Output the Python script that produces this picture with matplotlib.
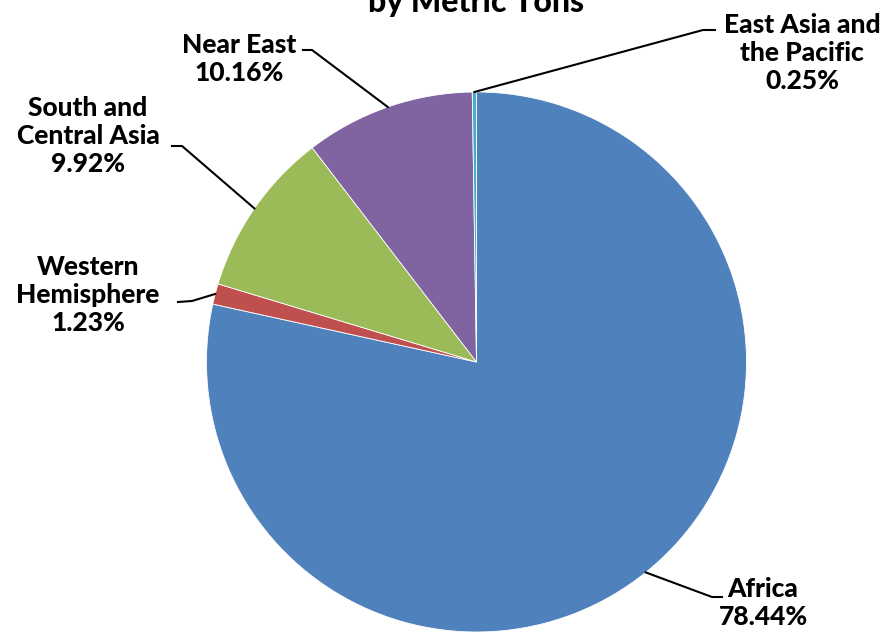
import numpy as np
import matplotlib.pyplot as plt

regions = ['Africa', 'Western\nHemisphere', 'South and\nCentral Asia', 'Near East', 'East Asia and\nthe Pacific']
shares = [78.44, 1.23, 9.92, 10.16, 0.25]
colors = ['#4F81BD', '#C0504D', '#9BBB59', '#8064A2', '#4BACC6']

plt.rcParams['font.family'] = ['Lato', 'DejaVu Sans']

W, H = 891, 633
fig = plt.figure(figsize=(W / 100, H / 100), dpi=100)

# pie centre and radius in pixels (from top-left)
cx, cy, r = 476.5, 362, 270
ax = fig.add_axes([(cx - r) / W, (H - cy - r) / H, 2 * r / W, 2 * r / H])
wedges, _ = ax.pie(shares, colors=colors, startangle=90, counterclock=False,
                   radius=1, wedgeprops=dict(edgecolor='white', linewidth=0.6))
ax.set_xlim(-1, 1)
ax.set_ylim(-1, 1)
ax.set_aspect('equal')
ax.axis('off')


def to_data(px, py):
    return (px - cx) / r, (cy - py) / r


# label text centre, elbow of leader line, end of horizontal stub (pixels)
layout = [
    ((763, 603), (712, 597), (722, 597)),
    ((88, 295), (192, 301), (178, 302)),
    ((88, 136), (182, 146), (172, 146)),
    ((239, 59), (312, 50), (303, 50)),
    ((802, 53), (703, 30), (715, 30)),
]

for w, name, val, (txt, elbow, stub) in zip(wedges, regions, shares, layout):
    mid = np.deg2rad((w.theta1 + w.theta2) / 2)
    x0, y0 = np.cos(mid), np.sin(mid)
    ex, ey = to_data(*elbow)
    sx, sy = to_data(*stub)
    ax.plot([x0, ex, sx], [y0, ey, sy], color='black', lw=1.5, clip_on=False)
    tx, ty = to_data(*txt)
    ax.text(tx, ty, f'{name}\n{val:.2f}%', ha='center', va='center',
            fontsize=19, fontweight='black', linespacing=1.2, clip_on=False)

fig.text(cx / W, 1 - 12 / H, 'by Metric Tons', ha='center', va='baseline',
         fontsize=23, fontweight='black')

fig.savefig('out.png', dpi=100)
